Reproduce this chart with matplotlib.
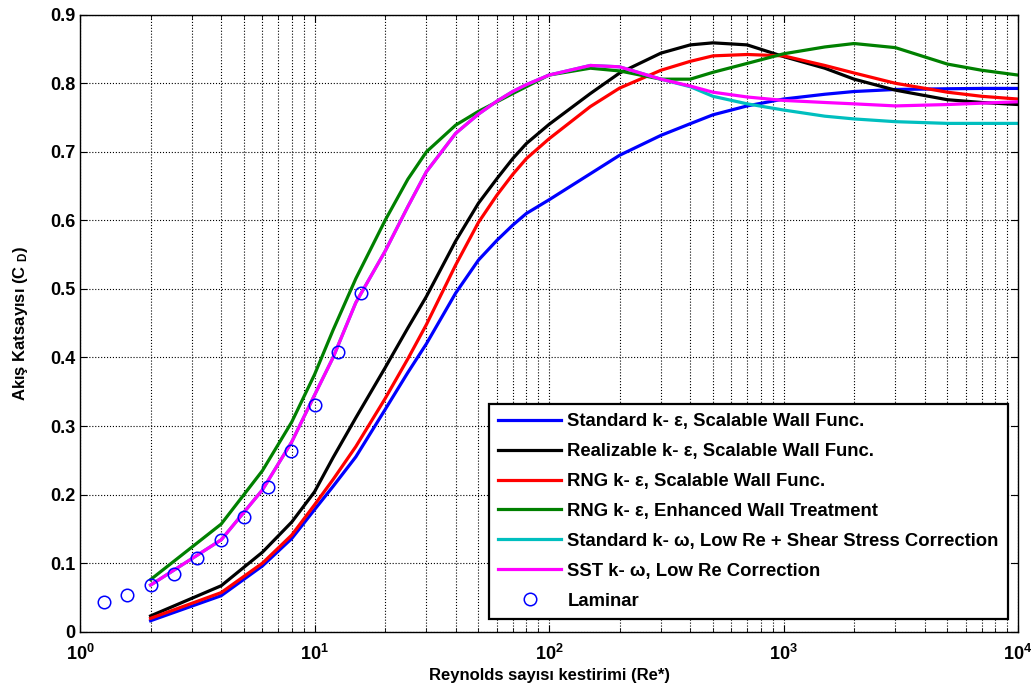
import numpy as np
import matplotlib
matplotlib.use("Agg")
import matplotlib.pyplot as plt
from matplotlib.ticker import LogLocator, NullFormatter, FixedLocator

plt.rcParams['font.family'] = ['Liberation Sans', 'DejaVu Sans']
plt.rcParams['font.weight'] = 'bold'
plt.rcParams['mathtext.fontset'] = 'custom'
plt.rcParams['mathtext.rm'] = 'Liberation Sans:bold'
plt.rcParams['mathtext.bf'] = 'Liberation Sans:bold'
plt.rcParams['mathtext.it'] = 'Liberation Sans:bold'
plt.rcParams['mathtext.default'] = 'bf'

re = [2, 4, 6, 8, 10, 12, 15, 20, 25, 30, 40, 50, 60, 70, 80, 100, 150, 200,
      300, 400, 500, 700, 1000, 1500, 2000, 3000, 5000, 7000, 10000]

std_ke = [0.016, 0.0525, 0.096, 0.136, 0.178, 0.212, 0.255, 0.324, 0.378, 0.420,
          0.494, 0.542, 0.571, 0.593, 0.610, 0.630, 0.668, 0.695, 0.724, 0.741,
          0.754, 0.767, 0.777, 0.784, 0.788, 0.791, 0.792, 0.7925, 0.7925]
real_ke = [0.023, 0.067, 0.116, 0.160, 0.204, 0.254, 0.312, 0.385, 0.443, 0.489,
           0.570, 0.625, 0.661, 0.690, 0.712, 0.740, 0.785, 0.815, 0.844, 0.856,
           0.859, 0.856, 0.839, 0.822, 0.806, 0.790, 0.776, 0.772, 0.769]
rng_ke = [0.0195, 0.057, 0.100, 0.141, 0.185, 0.222, 0.270, 0.340, 0.398, 0.448,
          0.535, 0.597, 0.637, 0.667, 0.690, 0.719, 0.766, 0.793, 0.819, 0.832,
          0.840, 0.842, 0.840, 0.826, 0.815, 0.800, 0.787, 0.781, 0.777]
rng_ke_ewt = [0.076, 0.157, 0.235, 0.306, 0.375, 0.440, 0.515, 0.600, 0.660, 0.700,
              0.739, 0.759, 0.773, 0.785, 0.795, 0.812, 0.822, 0.818, 0.806, 0.806,
              0.816, 0.829, 0.843, 0.853, 0.858, 0.852, 0.828, 0.819, 0.812]
std_kw = [0.068, 0.134, 0.207, 0.277, 0.345, 0.400, 0.480, 0.555, 0.620, 0.671,
          0.727, 0.755, 0.774, 0.788, 0.798, 0.812, 0.826, 0.824, 0.806, 0.795,
          0.781, 0.770, 0.761, 0.752, 0.748, 0.744, 0.7415, 0.7415, 0.7415]
sst_kw = [0.068, 0.134, 0.207, 0.277, 0.345, 0.400, 0.480, 0.555, 0.620, 0.671,
          0.727, 0.755, 0.774, 0.788, 0.798, 0.812, 0.826, 0.824, 0.806, 0.796,
          0.787, 0.780, 0.775, 0.772, 0.770, 0.767, 0.769, 0.771, 0.773]

# laminar reference points
re_lam = [1.26, 1.58, 2.0, 2.51, 3.16, 3.98, 5.01, 6.31, 7.94, 10.0, 12.6, 15.8]
cd_lam = [0.043, 0.054, 0.068, 0.084, 0.107, 0.134, 0.168, 0.211, 0.264, 0.330,
          0.408, 0.494]

labels = ['Standard k- ε, Scalable Wall Func.',
          'Realizable k- ε, Scalable Wall Func.',
          'RNG k- ε, Scalable Wall Func.',
          'RNG k- ε, Enhanced Wall Treatment',
          'Standard k- ω, Low Re + Shear Stress Correction',
          'SST k- ω, Low Re Correction',
          'Laminar']
colors = ['#0000ff', '#000000', '#ff0000', '#008000', '#00bfbf', '#ff00ff']

fig = plt.figure(figsize=(10.35, 6.95), dpi=100)
ax = fig.add_axes([0.0773, 0.0911, 0.9063, 0.8877])

series = [std_ke, real_ke, rng_ke, rng_ke_ewt, std_kw, sst_kw]
for ys, c, lab in zip(series, colors, labels):
    ax.plot(re, ys, color=c, lw=2.3, label=lab)
ax.plot(re_lam, cd_lam, 'o', mfc='none', mec='#0000ff', ms=9, mew=1.1,
        label=labels[6])

ax.set_xscale('log')
ax.set_xlim(1, 1e4)
ax.set_ylim(0, 0.9)
ax.yaxis.set_major_locator(FixedLocator(np.arange(0, 0.91, 0.1)))
ax.set_yticklabels(['0'] + ['%.1f' % v for v in np.arange(0.1, 0.91, 0.1)])
ax.xaxis.set_major_locator(LogLocator(base=10, numticks=10))
ax.xaxis.set_minor_locator(LogLocator(base=10, subs=np.arange(2, 10), numticks=10))
ax.xaxis.set_minor_formatter(NullFormatter())

ax.grid(True, which='major', ls=':', color='k', lw=0.8)
ax.grid(True, which='minor', axis='x', ls=':', color='k', lw=0.8)
ax.tick_params(direction='in', top=True, right=True, which='both', labelsize=13)
ax.tick_params(which='major', length=5)
ax.tick_params(which='minor', length=3)
ax.tick_params(axis='x', which='major', pad=9)
for s in ax.spines.values():
    s.set_linewidth(1.0)

ax.set_xlabel('Reynolds sayısı kestirimi (Re*)', fontsize=12, fontweight='bold', labelpad=3)
ax.set_ylabel('Akış Katsayısı (C $_{D}$)', fontsize=12, fontweight='bold', labelpad=14)

leg = ax.legend(loc='lower right', bbox_to_anchor=(0.9893, 0.0206), borderaxespad=0,
                fontsize=13.3, frameon=True, fancybox=False, edgecolor='k',
                framealpha=1, handlelength=3.4, labelspacing=0.7,
                borderpad=0.5, handletextpad=0.35)
leg.get_frame().set_linewidth(1.6)

fig.savefig('out.png', dpi=100)
